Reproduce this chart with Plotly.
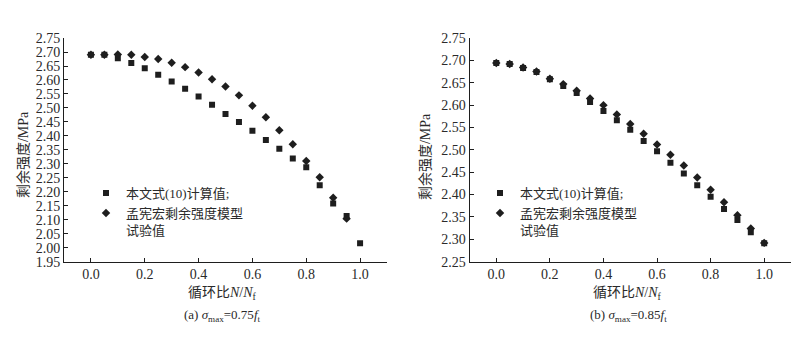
import plotly.graph_objects as go

# ---------------- data ----------------
ratio = [0.0, 0.05, 0.10, 0.15, 0.20, 0.25, 0.30, 0.35, 0.40, 0.45, 0.50,
         0.55, 0.60, 0.65, 0.70, 0.75, 0.80, 0.85, 0.90, 0.95, 1.00]

# (a) sigma_max = 0.75 f_t
calc_a = [2.690, 2.690, 2.678, 2.661, 2.642, 2.619, 2.595, 2.569, 2.541, 2.511, 2.478,
          2.450, 2.418, 2.385, 2.354, 2.319, 2.288, 2.223, 2.158, 2.113, 2.016]
test_a = [2.690, 2.690, 2.691, 2.690, 2.682, 2.675, 2.662, 2.646, 2.627, 2.603, 2.577,
          2.545, 2.508, 2.467, 2.420, 2.370, 2.310, 2.252, 2.179, 2.104, None]

# (b) sigma_max = 0.85 f_t
calc_b = [2.694, 2.692, 2.683, 2.674, 2.658, 2.643, 2.627, 2.607, 2.587, 2.566, 2.545,
          2.520, 2.497, 2.471, 2.447, 2.421, 2.395, 2.368, 2.343, 2.316, 2.291]
test_b = [2.694, 2.692, 2.684, 2.675, 2.659, 2.647, 2.632, 2.615, 2.600, 2.579, 2.558,
          2.536, 2.512, 2.489, 2.465, 2.438, 2.411, 2.383, 2.354, 2.324, 2.292]

x_tick_vals = [0.0, 0.2, 0.4, 0.6, 0.8, 1.0]
x_tick_text = ["0.0", "0.2", "0.4", "0.6", "0.8", "1.0"]

name_calc = "本文式(10)计算值;"
name_test = "孟宪宏剩余强度模型<br>试验值"
y_title = "剩余强度/MPa"
x_title = "循环比<i>N</i>/<i>N</i><sub>f</sub>"
caption_a = "(a) <i>σ</i><sub>max</sub>=0.75<i>f</i><sub>t</sub>"
caption_b = "(b) <i>σ</i><sub>max</sub>=0.85<i>f</i><sub>t</sub>"

# ---------------- style ----------------
W, H = 798, 338
INK = "#1e1e1e"
TXT = "#2a2a2a"
FONT = "Liberation Serif, Noto Sans CJK SC, serif"


def px_x(p):
    return p / W


def px_y(p):
    return 1 - p / H


fig = go.Figure()

traces = [
    (calc_a, name_calc, "square", 6, "x", "y", "legend"),
    (test_a, name_test, "diamond", 6.5, "x", "y", "legend"),
    (calc_b, name_calc, "square", 6, "x2", "y2", "legend2"),
    (test_b, name_test, "diamond", 6.5, "x2", "y2", "legend2"),
]
for vals, nm, sym, sz, xa, ya, lg in traces:
    fig.add_trace(go.Scatter(
        x=ratio, y=vals, mode="markers", name=nm,
        marker=dict(symbol=sym, size=sz, color=INK, line=dict(width=0)),
        xaxis=xa, yaxis=ya, legend=lg, showlegend=True))

axis_common = dict(
    showline=True, linecolor=INK, linewidth=1, mirror=False,
    ticks="inside", ticklen=4, tickwidth=1, tickcolor=INK,
    showgrid=False, zeroline=False,
    tickfont=dict(family=FONT, size=14, color=TXT),
)

fig.update_layout(
    width=W, height=H, autosize=False,
    margin=dict(l=0, r=0, t=0, b=0),
    paper_bgcolor="white", plot_bgcolor="white",
    font=dict(family=FONT, color=TXT),
    xaxis=dict(domain=[px_x(64), px_x(387)], range=[-0.1, 1.1], anchor="y",
               tickvals=x_tick_vals, ticktext=x_tick_text, **axis_common),
    yaxis=dict(domain=[px_y(266.5), px_y(32.5)], range=[1.95, 2.75], anchor="x",
               dtick=0.05, tick0=1.95, tickformat=".2f", **axis_common),
    xaxis2=dict(domain=[px_x(469.5), px_x(791)], range=[-0.1, 1.1], anchor="y2",
                tickvals=x_tick_vals, ticktext=x_tick_text, **axis_common),
    yaxis2=dict(domain=[px_y(266.5), px_y(32.5)], range=[2.25, 2.75], anchor="x2",
                dtick=0.05, tick0=2.25, tickformat=".2f", **axis_common),
    legend=dict(x=px_x(86), y=px_y(179), xanchor="left", yanchor="top",
                bgcolor="rgba(0,0,0,0)", borderwidth=0, tracegroupgap=0,
                valign="top", font=dict(family=FONT, size=13, color=TXT)),
    legend2=dict(x=px_x(480), y=px_y(179), xanchor="left", yanchor="top",
                 bgcolor="rgba(0,0,0,0)", borderwidth=0, tracegroupgap=0,
                 valign="top", font=dict(family=FONT, size=13, color=TXT)),
)

annots = [
    dict(text=y_title, x=px_x(23), y=px_y(155), textangle=-90, size=14),
    dict(text=y_title, x=px_x(425), y=px_y(157), textangle=-90, size=14),
    dict(text=x_title, x=px_x(222), y=px_y(300), textangle=0, size=14),
    dict(text=x_title, x=px_x(627), y=px_y(300), textangle=0, size=14),
    dict(text=caption_a, x=px_x(222), y=px_y(323), textangle=0, size=13),
    dict(text=caption_b, x=px_x(628), y=px_y(323), textangle=0, size=13),
]
for a in annots:
    fig.add_annotation(text=a["text"], x=a["x"], y=a["y"], xref="paper", yref="paper",
                       xanchor="center", yanchor="middle", showarrow=False,
                       textangle=a["textangle"],
                       font=dict(family=FONT, size=a["size"], color=TXT))

# remove the default 8px page margin so the figure fills the window exactly
fig.write_html("out.html",
               config={"displayModeBar": False},
               post_script="document.body.style.margin='0';"
                           "document.body.style.overflow='hidden';")
